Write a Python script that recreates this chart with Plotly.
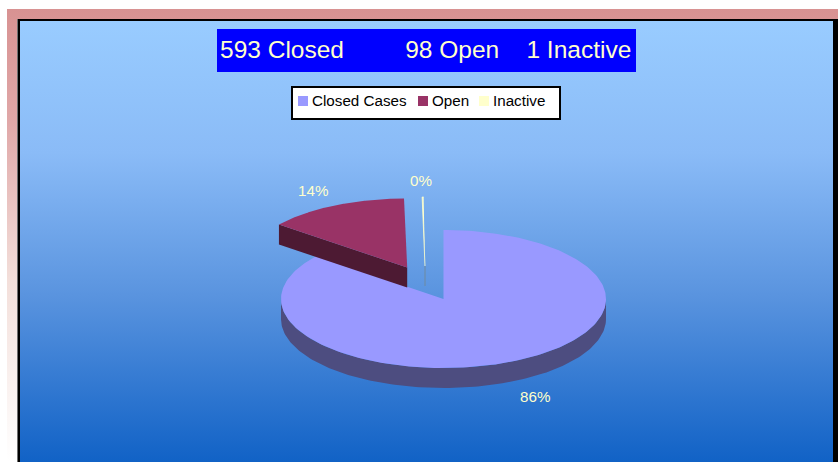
import numpy as np
import plotly.graph_objects as go

# ---- data ----
categories = ["Closed Cases", "Open", "Inactive"]
counts = [593, 98, 1]
title_names = ["Closed", "Open", "Inactive"]

# ---- style ----
TOP = ["#9999FF", "#993366", "#FFFFCC"]
SIDE = ["#4D4D80", "#4D1A33", "#6E8AA0"]
CREAM = "#FFFFCC"
FONT = "Liberation Sans, Arial, sans-serif"

# ---- pie geometry ----
CX, CY, RX, RY, DEPTH = 443.5, 299.0, 162.5, 69.0, 20.0
EXPLODE = [(0, 0), (-36.3, -31.5), (-18.5, -33)]
LEAN = [0.0, 0.025, 0.02]
LABEL_POS = [(535, 396), (313, 190), (421, 180)]

W, H = 838, 462
fig = go.Figure()


def rect(x0, x1, y0, y1, **kw):
    fig.add_trace(go.Scatter(x=[x0, x1, x1, x0, x0], y=[y0, y0, y1, y1, y0], mode="lines",
                             line=dict(width=0), fill="toself", hoverinfo="skip",
                             showlegend=False, **kw))


def grad(y0, y1, stops):
    return dict(type="vertical", start=y0, stop=y1, colorscale=stops)


# frame and panel
rect(7, W, 9, H, fillgradient=grad(9, H, [[0, "#D89292"], [0.25, "#E0A8A8"], [0.6, "#F3DFDA"], [1, "#FFFFFF"]]))
rect(17, W, 19, H, fillcolor="#000000")
rect(17, 18, 19, H, fillcolor="#707070")
rect(20, 833, 21, H, fillgradient=grad(21, H, [[0, "#99CCFF"], [0.3, "#8ABBF7"], [0.62, "#5A94DF"], [1, "#1162C6"]]))

# title band
rect(217, 636, 29, 72, fillcolor="#0000FF")

# slices
shares = np.array(counts, float) / sum(counts)
ends = np.cumsum(shares) * 2 * np.pi
starts = ends - shares * 2 * np.pi


def rim(i, a):
    dx, dy = EXPLODE[i]
    y = -RY * np.cos(a)
    return CX + dx + RX * np.sin(a) + LEAN[i] * y, CY + dy + y


def poly(xs, ys, color, lw=0):
    fig.add_trace(go.Scatter(x=xs, y=ys, mode="lines", line=dict(width=lw, color=color),
                             fill="toself", fillcolor=color, hoverinfo="skip", showlegend=False))


for i in range(len(counts)):
    a = np.linspace(starts[i], ends[i], 240)
    x, y = rim(i, a)
    ax, ay = CX + EXPLODE[i][0], CY + EXPLODE[i][1]
    if i == 0:
        # outer wall: only the front-facing part of the rim shows
        m = np.cos(a) <= 0
        poly(np.r_[x[m], x[m][::-1]], np.r_[y[m], y[m][::-1] + DEPTH], SIDE[i])
    elif i == 1:
        # cut wall facing the viewer, running from the rim to the apex
        poly([x[0], ax, ax, x[0]], [y[0], ay, ay + DEPTH, y[0] + DEPTH], SIDE[i])
    else:
        poly([ax, ax], [ay, ay + DEPTH], SIDE[i], lw=1)
    poly(np.r_[ax, x], np.r_[ay, y], TOP[i], lw=0.8 if i == 2 else 0)

# legend box
rect(291, 561, 86, 120, fillcolor="#000000")
rect(293, 559, 88, 118, fillcolor="#FFFFFF")
LEG_SWATCH = [303, 423, 484]
LEG_TEXT = [312, 432, 493]
for i, name in enumerate(categories):
    fig.add_trace(go.Scatter(x=[LEG_SWATCH[i]], y=[101], mode="markers", hoverinfo="skip", showlegend=False,
                             marker=dict(symbol="square", size=10, color=TOP[i], line=dict(width=0))))
    fig.add_annotation(x=LEG_TEXT[i], y=100, text=name, showarrow=False, xanchor="left", yanchor="middle",
                       xshift=-2, font=dict(family=FONT, size=15.2, color="#000000"))

# percent labels
for i, (lx, ly) in enumerate(LABEL_POS):
    fig.add_annotation(x=lx, y=ly, text=f"{round(shares[i] * 100)}%", showarrow=False,
                       font=dict(family=FONT, size=15.2, color=CREAM))

# title text
nb = "\u00a0"
title = (f"{counts[0]} {title_names[0]}" + nb * 9 + f"{counts[1]} {title_names[1]}" + nb * 4 +
         f"{counts[2]} {title_names[2]}")
fig.add_annotation(x=220, y=49, text=title, showarrow=False, xanchor="left", yanchor="middle", xshift=-2,
                   font=dict(family=FONT, size=24.5, color=CREAM))

fig.update_layout(width=W, height=H, margin=dict(l=0, r=0, t=0, b=0), paper_bgcolor="#FFFFFF",
                  plot_bgcolor="#FFFFFF", showlegend=False,
                  xaxis=dict(range=[0, W], visible=False, fixedrange=True),
                  yaxis=dict(range=[H, 0], visible=False, fixedrange=True))
fig.write_html("out.html", config={"displayModeBar": False},
               post_script="document.body.style.margin='0';document.documentElement.style.overflow='hidden';")
